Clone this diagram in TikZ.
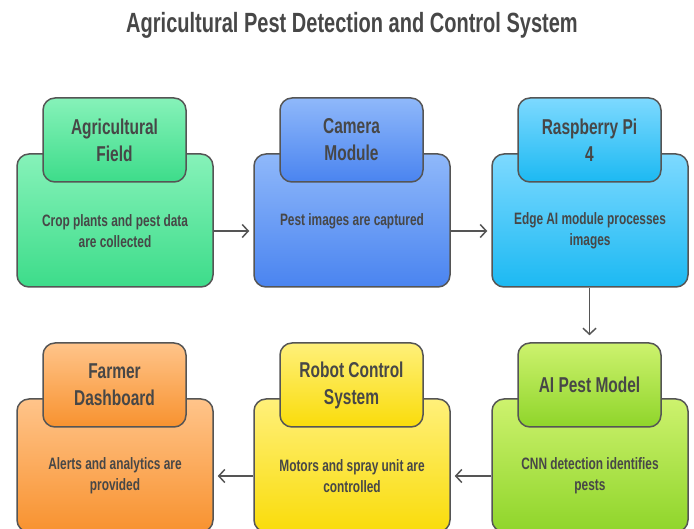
\documentclass[tikz,border=0pt]{standalone}
\usepackage{fontspec}
\setmainfont{Liberation Sans}[FakeStretch=0.72]
\usetikzlibrary{arrows.meta}
\definecolor{txt}{HTML}{474747}
\definecolor{edge}{HTML}{555555}
\definecolor{gT}{HTML}{86F2B9}\definecolor{gB}{HTML}{3DDC8A}
\definecolor{bT}{HTML}{8FB8FA}\definecolor{bB}{HTML}{4A84F0}
\definecolor{cT}{HTML}{7DD9FF}\definecolor{cB}{HTML}{1CB9F2}
\definecolor{oT}{HTML}{FFC48A}\definecolor{oB}{HTML}{F8922F}
\definecolor{yT}{HTML}{FFF07A}\definecolor{yB}{HTML}{F9DC0A}
\definecolor{lT}{HTML}{CDF26E}\definecolor{lB}{HTML}{8FD52A}
\tikzset{
  bigbox/.style={draw=edge, line width=1.5pt, rounded corners=12pt, minimum width=196pt, minimum height=133pt, inner sep=0pt},
  headbox/.style={draw=edge, line width=1.5pt, rounded corners=12pt, minimum width=143pt, minimum height=84pt, inner sep=0pt, align=center, font=\bfseries\fontsize{21.5}{27}\selectfont, text=txt},
  bodytext/.style={align=center, font=\bfseries\fontsize{16.5}{21}\selectfont, text=txt, inner sep=0pt},
  shade2/.style 2 args={top color=#1, bottom color=#2},
  conn/.style={draw=edge, line width=1.5pt, -{Straight Barb[length=6pt,width=13pt,line width=1.5pt]}}
}
\begin{document}
\begin{tikzpicture}[x=1pt,y=-1pt]
\useasboundingbox (0,0) rectangle (694,529);
\begin{scope}
\clip (0,0) rectangle (694,529);
\node[font=\bfseries\fontsize{27.8}{32}\selectfont, text=txt] (title) at (352,25) {Agricultural Pest Detection and Control System};
% top row
\node[bigbox, shade2={gT}{gB}] (b1) at (115,220.5) {};
\node[headbox, shade2={gT}{gB}] (h1) at (114.5,140) {Agricultural\\Field};
\node[bodytext] (t1) at (115,231) {Crop plants and pest data\\are collected};
\node[bigbox, shade2={bT}{bB}] (b2) at (352,220.5) {};
\node[headbox, shade2={bT}{bB}] (h2) at (351.5,140) {Camera\\Module};
\node[bodytext] (t2) at (352,221) {Pest images are captured};
\node[bigbox, shade2={cT}{cB}] (b3) at (590,220.5) {};
\node[headbox, shade2={cT}{cB}] (h3) at (589.5,140) {Raspberry Pi\\4};
\node[bodytext] (t3) at (590,231) {Edge AI module processes\\images};
% bottom row
\node[bigbox, shade2={oT}{oB}] (b4) at (115,465.5) {};
\node[headbox, shade2={oT}{oB}] (h4) at (114.5,385) {Farmer\\Dashboard};
\node[bodytext] (t4) at (115,476) {Alerts and analytics are\\provided};
\node[bigbox, shade2={yT}{yB}] (b5) at (352,465.5) {};
\node[headbox, shade2={yT}{yB}] (h5) at (351.5,385) {Robot Control\\System};
\node[bodytext] (t5) at (352,476) {Motors and spray unit are\\controlled};
\node[bigbox, shade2={lT}{lB}] (b6) at (590,465.5) {};
\node[headbox, shade2={lT}{lB}] (h6) at (589.5,385) {AI Pest Model};
\node[bodytext] (t6) at (590,476) {CNN detection identifies\\pests};
% connectors
\draw[conn] (b1.east |- t1.center) -- ([xshift=-4pt]b2.west |- t1.center);
\draw[conn] (b2.east |- t1.center) -- ([xshift=-4pt]b3.west |- t1.center);
\draw[conn] (b3.south -| h6.north) -- ([yshift=7pt]h6.north);
\draw[conn] (b6.west |- t6.center) -- ([xshift=4pt]b5.east |- t6.center);
\draw[conn] (b5.west |- t5.center) -- ([xshift=4pt]b4.east |- t5.center);
\end{scope}
\end{tikzpicture}
\end{document}
